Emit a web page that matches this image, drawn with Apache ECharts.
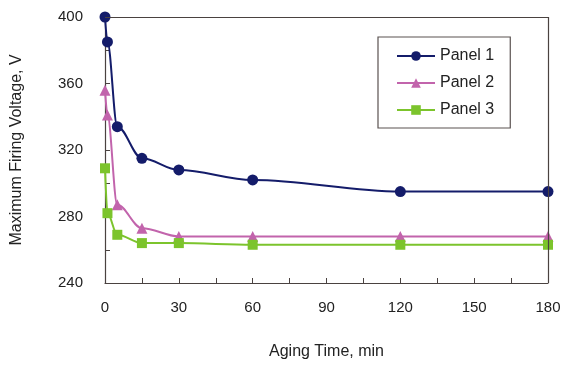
<!DOCTYPE html>
<html>
<head>
<meta charset="utf-8">
<script src="https://cdn.jsdelivr.net/npm/echarts@6/dist/echarts.min.js"></script>
<style>
html,body{margin:0;padding:0;background:#fff;}
#main{width:567px;height:372px;}
</style>
</head>
<body>
<div id="main"></div>
<script>
// data
var agingTime = [0, 1, 5, 15, 30, 60, 120, 180];
var panel1 = [400, 385, 334, 315, 308, 302, 295, 295];
var panel2 = [356, 341, 287, 273, 268, 268, 268, 268];
var panel3 = [309, 282, 269, 264, 264, 263, 263, 263];

function pairs(ys){
	var out = [];
	for (var i = 0; i < agingTime.length; i++) out.push([agingTime[i], ys[i]]);
	return out;
}

var myChart = echarts.init(document.getElementById('main'));
var option = {
	animation: false,
	textStyle: { fontFamily: 'Liberation Sans, Arial, sans-serif' },
	grid: { left: 105, right: 19, top: 17, bottom: 89 },
	legend: {
		orient: 'vertical',
		left: 378, top: 37,
		padding: [11, 16, 10, 18],
		itemGap: 11,
		itemWidth: 38, itemHeight: 12,
		borderColor: '#5a5250', borderWidth: 1.2,
		textStyle: { color: '#222', fontSize: 16, fontFamily: 'Liberation Sans, Arial, sans-serif' },
		data: ['Panel 1', 'Panel 2', 'Panel 3']
	},
	xAxis: {
		type: 'value', min: 0, max: 180, interval: 15,
		name: 'Aging Time, min', nameLocation: 'middle', nameGap: 61,
		nameTextStyle: { color: '#222', fontSize: 16 },
		axisLine: { lineStyle: { color: '#4a4240', width: 1.2 } },
		axisTick: { inside: true, length: 5, lineStyle: { color: '#4a4240' } },
		axisLabel: { color: '#222', fontSize: 15, margin: 17,
			formatter: function(v){ return v % 30 === 0 ? String(v) : ''; } },
		splitLine: { show: false }
	},
	yAxis: {
		type: 'value', min: 240, max: 400, interval: 20,
		name: 'Maximum Firing Voltage, V', nameLocation: 'middle', nameGap: 80,
		nameTextStyle: { color: '#222', fontSize: 16 },
		axisLine: { show: true, lineStyle: { color: '#4a4240', width: 1.2 } },
		axisTick: { inside: true, length: 5, lineStyle: { color: '#4a4240' } },
		axisLabel: { color: '#222', fontSize: 15, margin: 22,
			formatter: function(v){ return v % 40 === 0 ? String(v) : ''; } },
		splitLine: { show: false }
	},
	series: [
		{
			name: 'Panel 1', type: 'line', smooth: 0.35, smoothMonotone: 'x',
			data: pairs(panel1),
			symbol: 'circle', symbolSize: 11,
			itemStyle: { color: '#141c6a' },
			lineStyle: { color: '#141c6a', width: 2 }
		},
		{
			name: 'Panel 2', type: 'line', smooth: 0.35, smoothMonotone: 'x',
			data: pairs(panel2),
			symbol: 'triangle', symbolSize: 11,
			itemStyle: { color: '#c264ac' },
			lineStyle: { color: '#c264ac', width: 2 }
		},
		{
			name: 'Panel 3', type: 'line', smooth: 0.35, smoothMonotone: 'x',
			data: pairs(panel3),
			symbol: 'rect', symbolSize: 10,
			itemStyle: { color: '#7cc42c' },
			lineStyle: { color: '#7cc42c', width: 2 }
		},
		// frame on top and right
		{
			type: 'line', silent: true, data: [],
			markLine: {
				symbol: 'none', silent: true, label: { show: false },
				lineStyle: { color: '#4a4240', width: 1.2, type: 'solid' },
				data: [
					[{ coord: [0, 400] }, { coord: [180, 400] }],
					[{ coord: [180, 240] }, { coord: [180, 400] }]
				]
			}
		}
	]
};
myChart.setOption(option);
</script>
</body>
</html>
